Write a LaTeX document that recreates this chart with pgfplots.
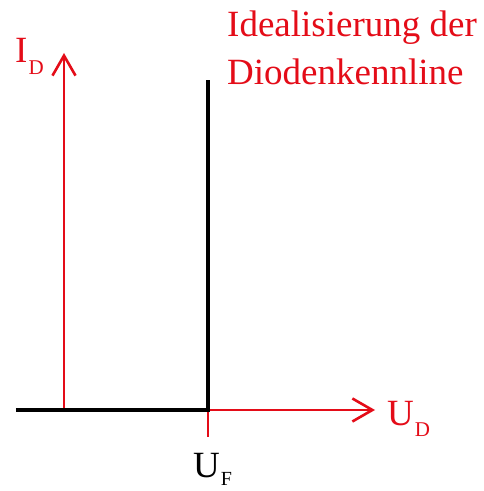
\documentclass[border=0pt]{standalone}
\usepackage{pgfplots}
\pgfplotsset{compat=1.18}
\usetikzlibrary{arrows.meta}
\usepackage{fontspec}
\setmainfont{Liberation Serif}
\definecolor{tred}{RGB}{228,12,24}
\newcommand{\sub}[2]{#1\hspace{1pt}\raisebox{-12pt}{\fontsize{21}{21}\selectfont #2}}
\begin{document}
\begin{tikzpicture}
\begin{axis}[
  set layers,
  scale only axis,
  width=359pt, height=357pt,
  xmin=-48, xmax=311, ymin=0, ymax=357,
  enlargelimits=false,
  axis lines=middle,
  axis line style={draw=tred, line width=2.6pt, -{Straight Barb[length=20pt,width=23pt]}},
  every inner x axis line/.append style={-{Straight Barb[length=20pt,width=23pt]}},
  every inner y axis line/.append style={-{Straight Barb[length=20pt,width=23pt]}},
  xtick=\empty, ytick=\empty,
  clip=false,
]
\addplot[tred, line width=2.6pt, forget plot] coordinates {(144,0) (144,-27)};
\addplot[black, line width=4.5pt, line join=miter, forget plot] coordinates {(-48,0) (144,0) (144,330)};
\node[anchor=base west, inner sep=0pt, text=tred, font=\fontsize{37}{37}\selectfont] at (axis cs:-49,347) {\sub{I}{D}};
\node[anchor=base west, inner sep=0pt, text=tred, font=\fontsize{37}{37}\selectfont] at (axis cs:323,-15) {\sub{U}{D}};
\node[anchor=base west, inner sep=0pt, text=black, font=\fontsize{37}{37}\selectfont] at (axis cs:129,-67) {U\hspace{1pt}\raisebox{-8pt}{\fontsize{20}{20}\selectfont F}};
\node[anchor=base west, inner sep=0pt, text=tred, align=left, font=\fontsize{37}{48}\selectfont] at (axis cs:163,325) {Idealisierung der\\Diodenkennline};
\path (axis cs:-64,-81) rectangle (axis cs:419,410);
\end{axis}
\end{tikzpicture}
\end{document}
